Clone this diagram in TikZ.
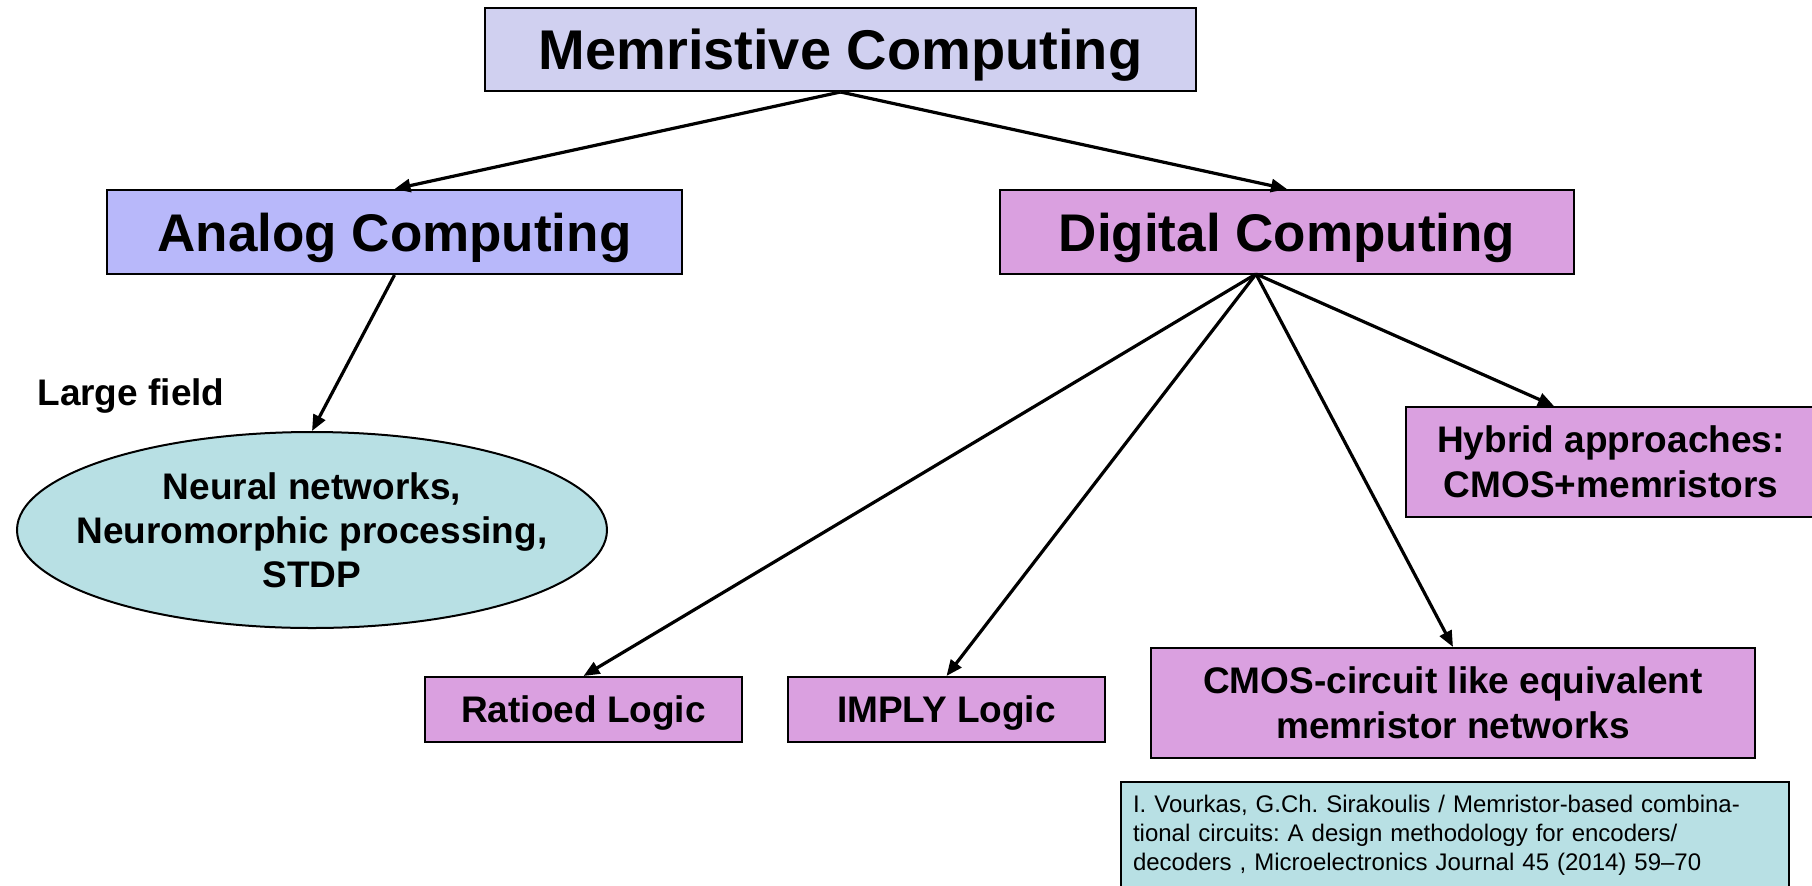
\documentclass[tikz,border=0pt]{standalone}
\usepackage{xcolor}
\usepackage{fontspec}
\setmainfont{Liberation Sans}
\usepackage{tikz}
\usetikzlibrary{shapes.geometric, arrows.meta}

\definecolor{memfill}{RGB}{208,208,240}
\definecolor{anafill}{RGB}{184,184,250}
\definecolor{digfill}{RGB}{218,160,224}
\definecolor{cyanfill}{RGB}{184,224,228}

\begin{document}
\frenchspacing
\begin{tikzpicture}[x=0.5pt, y=-0.5pt, >={Triangle[length=8pt, width=6.5pt]},
    box/.style={draw, line width=1pt, rectangle, inner sep=0pt, align=center, fill=digfill,
        font=\bfseries\fontsize{18.5}{22.5}\selectfont},
    arr/.style={->, line width=1.6pt}]
    \useasboundingbox (0, 0) rectangle (1812, 885);

    \node[box, fill=memfill, minimum width=355.5pt, minimum height=41.5pt, text depth=0pt, font=\bfseries\fontsize{28}{32}\selectfont] at (840.5, 49.5) (mem) {Memristive Computing};

    \node[box, fill=anafill, minimum width=287.5pt, minimum height=42pt, text depth=0pt, font=\bfseries\fontsize{26.5}{30}\selectfont] at (394.5, 232) (analog) {Analog Computing};
    \node[box, minimum width=287pt, minimum height=42pt, text depth=0pt, font=\bfseries\fontsize{26.5}{30}\selectfont] at (1287, 232) (digital) {Digital Computing};

    \node[font=\bfseries\fontsize{18.5}{22}\selectfont, anchor=west, inner sep=0pt, text depth=0pt] at (37, 392) (field) {Large field};
    \node[draw, line width=1pt, ellipse, fill=cyanfill, inner sep=0pt, minimum width=295pt, minimum height=98pt] at (312, 530) (neural) {};
    \node[align=center, inner sep=0pt, font=\bfseries\fontsize{18.5}{22}\selectfont] at (neural.center) (neuraltext) {Neural networks,\\ Neuromorphic processing,\\ STDP};

    \node[box, minimum width=205pt, minimum height=55pt] at (1611, 462) (hybrid) {Hybrid approaches:\\ CMOS+memristors};
    \node[box, minimum width=158.5pt, minimum height=32.5pt, text depth=0pt] at (583.5, 709.5) (ratioed) {Ratioed Logic};
    \node[box, minimum width=158.5pt, minimum height=32.5pt, text depth=0pt] at (946.5, 709.5) (imply) {IMPLY Logic};
    \node[box, minimum width=302pt, minimum height=55pt] at (1453, 703) (cmos) {CMOS-circuit like equivalent\\ memristor networks};

    \node[draw, line width=1pt, rectangle, fill=cyanfill, minimum width=334pt, minimum height=53pt, text width=322pt, inner sep=0pt, align=left, font=\fontsize{12}{14.5}\selectfont] at (1455, 835) (cite) {I. Vourkas, G.Ch. Sirakoulis / Memristor-based combina-\\ tional circuits: A design methodology for encoders/\\ decoders , Microelectronics Journal 45 (2014) 59--70};

    \coordinate (fork) at (1256, 274);

    \draw[arr] (mem.south) -- (analog.north);
    \draw[arr] (mem.south) -- (digital.north);
    \draw[arr] (analog.south) -- (neural.north);
    \draw[arr] (fork) -- (ratioed.north);
    \draw[arr] (fork) -- (imply.north);
    \draw[arr] (fork) -- (cmos.north);
    \draw[arr] (fork) -- ([xshift=-28.5pt]hybrid.north);
\end{tikzpicture}
\end{document}
